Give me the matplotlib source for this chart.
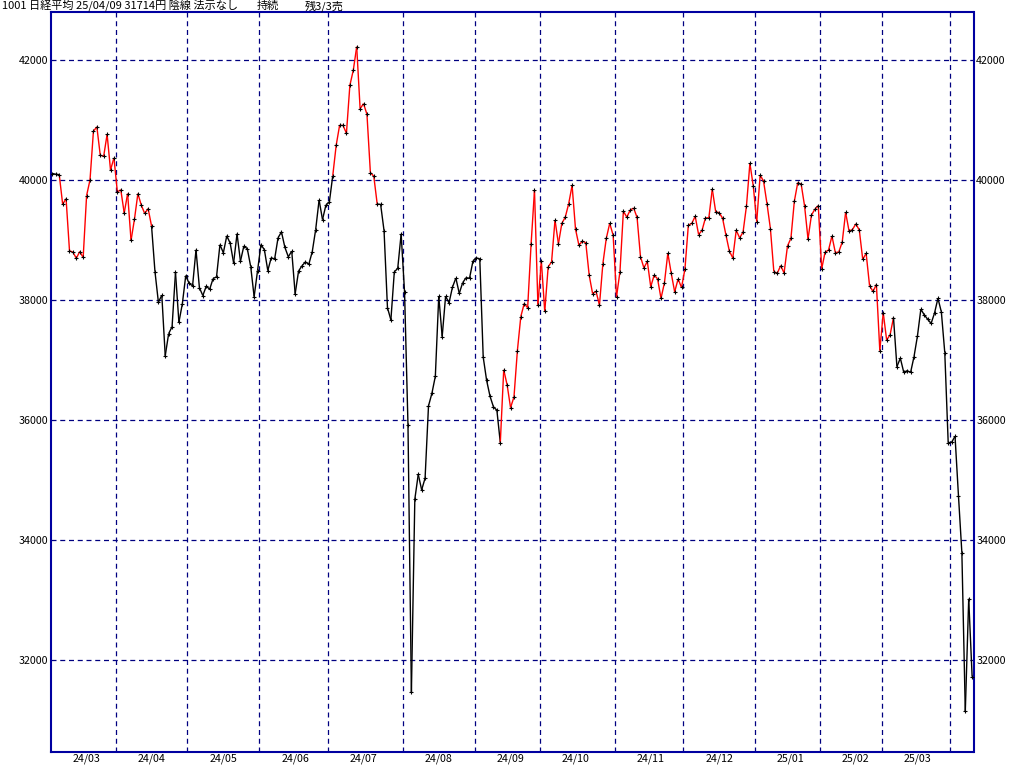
import numpy as np
import matplotlib.pyplot as plt
from matplotlib.collections import LineCollection

plt.rcParams['font.family'] = ['Noto Sans CJK JP', 'DejaVu Sans']

# daily closes, one list per month (trading days only)
mar24 = [40109, 40097, 40090, 39598, 39688, 38820, 38797, 38695, 38807, 38708,
         39740, 40003, 40815, 40888, 40414, 40398, 40762, 40168, 40369]
apr24 = [39803, 39838, 39451, 39773, 38992, 39347, 39773, 39581, 39442, 39523,
         39232, 38471, 37962, 38079, 37068, 37438, 37552, 38460, 37628, 37934, 38405]
may24 = [38274, 38236, 38835, 38202, 38073, 38229, 38179, 38356, 38385, 38920,
         38787, 39069, 38946, 38617, 39103, 38646, 38900, 38855, 38556, 38054, 38487]
jun24 = [38923, 38837, 38490, 38703, 38683, 39038, 39134, 38876, 38720, 38814,
         38102, 38482, 38570, 38633, 38596, 38804, 39173, 39667, 39341, 39583]
jul24 = [39631, 40074, 40580, 40913, 40912, 40780, 41580, 41831, 42224, 41190,
         41275, 41097, 40126, 40063, 39599, 39594, 39154, 37869, 37667, 38468, 38525, 39101]
aug24 = [38126, 35909, 31458, 34675, 35089, 34831, 35025, 36232, 36442, 36726,
         38062, 37388, 38062, 37951, 38211, 38364, 38110, 38288, 38371, 38362, 38647]
sep24 = [38700, 38686, 37047, 36657, 36391, 36215, 36159, 35619, 36833, 36581,
         36203, 36380, 37155, 37723, 37940, 37870, 38925, 39829, 37919]
oct24 = [38651, 37808, 38552, 38635, 39332, 38937, 39277, 39380, 39605, 39910,
         39180, 38911, 38981, 38954, 38411, 38104, 38143, 37913, 38605, 39027, 39277, 39081]
nov24 = [38053, 38474, 39480, 39381, 39500, 39533, 39376, 38721, 38535, 38642,
         38220, 38414, 38352, 38026, 38283, 38780, 38442, 38134, 38349, 38208]
dec24 = [38513, 39248, 39276, 39395, 39091, 39160, 39367, 39372, 39849, 39470,
         39457, 39364, 39081, 38813, 38701, 39161, 39036, 39130, 39568, 40281, 39894]
jan25 = [39307, 40083, 39981, 39605, 39190, 38474, 38444, 38572, 38451, 38902,
         39027, 39646, 39958, 39931, 39565, 39016, 39414, 39513, 39572]
feb25 = [38520, 38798, 38831, 39066, 38787, 38801, 38963, 39461, 39149, 39174,
         39270, 39164, 38678, 38776, 38237, 38142, 38256, 37155]
mar25 = [37785, 37331, 37418, 37704, 36887, 37028, 36793, 36819, 36790, 37053,
         37396, 37845, 37751, 37677, 37608, 37780, 38027, 37799, 37120, 35617]
apr25 = [35624, 35725, 34735, 33780, 31136, 33012, 31714]

months = [mar24, apr24, may24, jun24, jul24, aug24, sep24, oct24,
          nov24, dec24, jan25, feb25, mar25, apr25]
month_labels = ["24/03", "24/04", "24/05", "24/06", "24/07", "24/08", "24/09",
                "24/10", "24/11", "24/12", "25/01", "25/02", "25/03", "25/04"]

# stretches (first point, last point) drawn in red
red_spans = [(2, 29), (82, 95), (131, 246)]

y_ticks = [32000, 34000, 36000, 38000, 40000, 42000]

closes = np.concatenate(months).astype(float)
counts = [len(m) for m in months]
starts = np.cumsum([0] + counts[:-1])
x = np.arange(len(closes))

seg_colors = ["black"] * (len(closes) - 1)
for a, b in red_spans:
    for i in range(a, b):
        seg_colors[i] = "red"

pts = np.column_stack([x, closes])
segs = np.stack([pts[:-1], pts[1:]], axis=1)

fig = plt.figure(figsize=(10.24, 7.67), dpi=100)
ax = fig.add_axes([51 / 1024, 15 / 767, 922.5 / 1024, 740 / 767])

navy = "#000080"
for s in starts[1:]:
    ax.axvline(s - 0.5, color=navy, lw=0.9, ls=(0, (4, 3)), zorder=1)
for v in y_ticks:
    ax.axhline(v, color=navy, lw=0.9, ls=(0, (4, 3)), zorder=1)

ax.add_collection(LineCollection(segs, colors=seg_colors, linewidths=1.0, zorder=2))
ax.plot(x, closes, ls="none", marker="+", ms=3.5, mew=0.8, color="black", zorder=3)

ax.set_xlim(-0.41, 269.4)
ax.set_ylim(30457, 42804)

ax.set_yticks(y_ticks)
ax.set_yticklabels([str(v) for v in y_ticks])
ax.tick_params(axis="y", length=0, pad=2, labelsize=7.7, labelleft=True, labelright=True)

lab_pos = [s + 10 for s, c in zip(starts, counts) if c > 10]
lab_txt = [l for l, c in zip(month_labels, counts) if c > 10]
ax.set_xticks(lab_pos)
ax.set_xticklabels(lab_txt)
ax.tick_params(axis="x", length=0, pad=1.2, labelsize=7.7)

for sp in ax.spines.values():
    sp.set_color("#0000a0")
    sp.set_linewidth(1.5)

ty = 1 - 6 / 767
fig.text(2 / 1024, ty, "1001 日経平均 25/04/09 31714円 陰線 法示なし", fontsize=8.0, va="center", ha="left")
fig.text(257 / 1024, ty, "持続", fontsize=8.0, va="center", ha="left")
fig.text(305 / 1024, ty, "残3/3売", fontsize=8.0, va="center", ha="left")

fig.savefig("out.png", dpi=100)
